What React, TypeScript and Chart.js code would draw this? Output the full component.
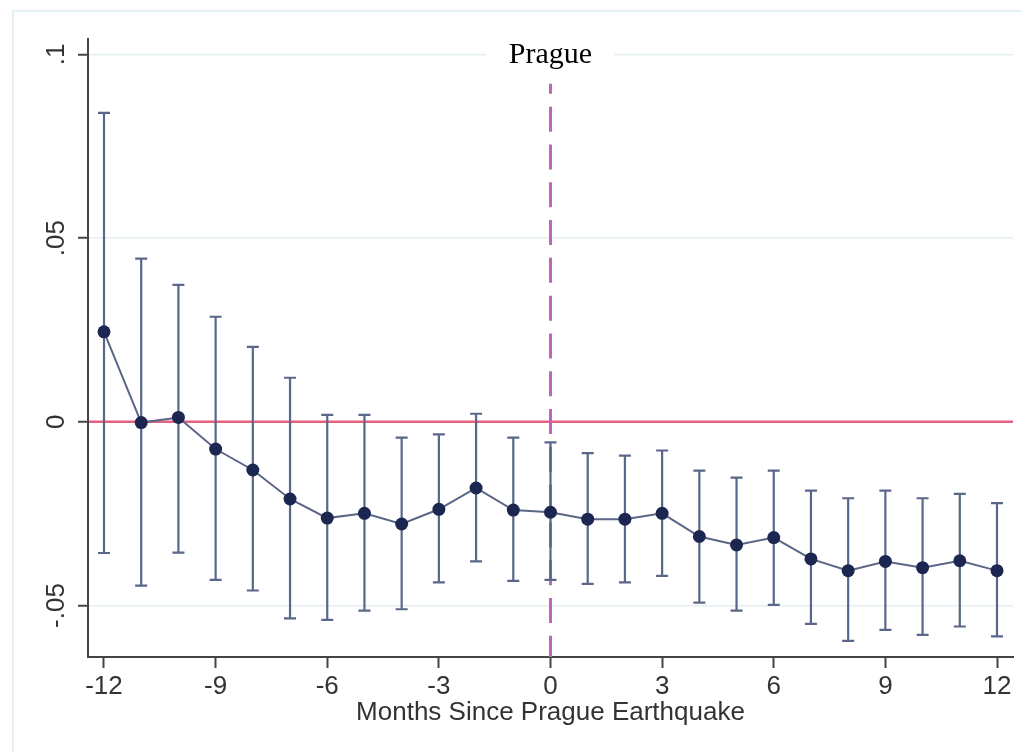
import React, { useEffect, useRef } from "react";
import { Chart, registerables } from "chart.js";

Chart.register(...registerables);

// ---- data ----
const months = [-12, -11, -10, -9, -8, -7, -6, -5, -4, -3, -2, -1, 0, 1, 2, 3, 4, 5, 6, 7, 8, 9, 10, 11, 12];
const coef = [0.0245, -0.0002, 0.0012, -0.0074, -0.0131, -0.021, -0.0262, -0.0249, -0.0278, -0.0238, -0.018, -0.024, -0.0246, -0.0265, -0.0265, -0.0249, -0.0312, -0.0335, -0.0315, -0.0373, -0.0405, -0.038, -0.0397, -0.0378, -0.0405];
const ciUpper = [0.0841, 0.0444, 0.0373, 0.0286, 0.0204, 0.012, 0.0019, 0.0019, -0.0043, -0.0034, 0.0022, -0.0043, -0.0056, -0.0085, -0.0092, -0.0078, -0.0133, -0.0152, -0.0133, -0.0187, -0.0208, -0.0187, -0.0208, -0.0196, -0.0221];
const ciLower = [-0.0357, -0.0446, -0.0356, -0.043, -0.0459, -0.0535, -0.0539, -0.0514, -0.051, -0.0437, -0.038, -0.0433, -0.043, -0.0441, -0.0437, -0.0419, -0.0492, -0.0514, -0.0498, -0.055, -0.0596, -0.0566, -0.058, -0.0557, -0.0584];
const xTickValues = [-12, -9, -6, -3, 0, 3, 6, 9, 12];
const xTickLabels = ["-12", "-9", "-6", "-3", "0", "3", "6", "9", "12"];
const yTickValues = [-0.05, 0, 0.05, 0.1];
const yTickLabels = ["-.05", "0", ".05", ".1"];
const xAxisTitle = "Months Since Prague Earthquake";
const eventLabel = "Prague";
const eventMonth = 0;
const referenceValue = 0;
const eventLineTop = 0.092;

const SANS = "'Liberation Sans', Arial, sans-serif";
const SERIF = "'Liberation Serif', 'Times New Roman', serif";

export default function App() {
  const ref = useRef<HTMLCanvasElement>(null);

  useEffect(() => {
    const canvas = ref.current;
    if (!canvas) return;

    const overlay = {
      id: "overlay",
      beforeDraw(chart: any) {
        const ctx = chart.ctx;
        ctx.save();
        ctx.fillStyle = "#ffffff";
        ctx.fillRect(0, 0, chart.width, chart.height);
        ctx.strokeStyle = "#e4f1f6";
        ctx.lineWidth = 2;
        ctx.beginPath();
        ctx.moveTo(13, chart.height);
        ctx.lineTo(13, 11);
        ctx.lineTo(chart.width, 11);
        ctx.stroke();
        ctx.restore();
      },
      beforeDatasetsDraw(chart: any) {
        const ctx = chart.ctx;
        const xs = chart.scales.x;
        const ys = chart.scales.y;
        const area = chart.chartArea;
        ctx.save();
        // reference line at zero
        const y0 = ys.getPixelForValue(referenceValue);
        ctx.strokeStyle = "#e3627d";
        ctx.lineWidth = 2.5;
        ctx.beginPath();
        ctx.moveTo(area.left + 1, y0);
        ctx.lineTo(area.right, y0);
        ctx.stroke();
        // event line
        const xe = xs.getPixelForValue(eventMonth);
        ctx.strokeStyle = "#c064c0";
        ctx.lineWidth = 3;
        ctx.setLineDash([25, 12.8]);
        ctx.lineDashOffset = 15;
        ctx.beginPath();
        ctx.moveTo(xe, ys.getPixelForValue(eventLineTop));
        ctx.lineTo(xe, area.bottom);
        ctx.stroke();
        ctx.setLineDash([]);
        // error bars
        ctx.strokeStyle = "#5a678a";
        ctx.lineWidth = 2.2;
        for (let i = 0; i < months.length; i++) {
          const x = xs.getPixelForValue(months[i]);
          const yu = ys.getPixelForValue(ciUpper[i]);
          const yl = ys.getPixelForValue(ciLower[i]);
          ctx.beginPath();
          ctx.moveTo(x, yu);
          ctx.lineTo(x, yl);
          ctx.moveTo(x - 6, yu);
          ctx.lineTo(x + 6, yu);
          ctx.moveTo(x - 6, yl);
          ctx.lineTo(x + 6, yl);
          ctx.stroke();
        }
        ctx.restore();
      },
      afterDraw(chart: any) {
        const ctx = chart.ctx;
        const xs = chart.scales.x;
        const ys = chart.scales.y;
        ctx.save();
        // rotated y tick labels
        ctx.fillStyle = "#333333";
        ctx.font = `26px ${SANS}`;
        ctx.textAlign = "center";
        ctx.textBaseline = "middle";
        for (let i = 0; i < yTickValues.length; i++) {
          const py = ys.getPixelForValue(yTickValues[i]);
          ctx.save();
          ctx.translate(57, py);
          ctx.rotate(-Math.PI / 2);
          ctx.fillText(yTickLabels[i], 0, 0);
          ctx.restore();
        }
        // event label with white box
        const xe = xs.getPixelForValue(eventMonth);
        ctx.fillStyle = "#ffffff";
        ctx.fillRect(xe - 64, 40, 128, 34);
        ctx.fillStyle = "#000000";
        ctx.font = `30px ${SERIF}`;
        ctx.textAlign = "center";
        ctx.textBaseline = "alphabetic";
        ctx.fillText(eventLabel, xe, 63);
        ctx.restore();
      },
    };

    const chart = new Chart(canvas, {
      type: "line",
      data: {
        datasets: [
          {
            data: months.map((m, i) => ({ x: m, y: coef[i] })),
            borderColor: "#5b6687",
            borderWidth: 2,
            pointRadius: 6.5,
            pointBackgroundColor: "#1b2750",
            pointBorderColor: "#1b2750",
            pointBorderWidth: 0,
            tension: 0,
            clip: false as any,
          },
        ],
      },
      options: {
        responsive: false,
        animation: false,
        devicePixelRatio: 1,
        layout: { padding: { left: 0, right: 8, top: 39, bottom: 0 } },
        plugins: { legend: { display: false }, tooltip: { enabled: false } },
        scales: {
          x: {
            type: "linear",
            min: -12.43,
            max: 12.43,
            afterBuildTicks: (s: any) => {
              s.ticks = xTickValues.map((v) => ({ value: v }));
            },
            afterFit: (s: any) => {
              s.height = 95;
            },
            ticks: {
              callback: (v: any) => xTickLabels[xTickValues.indexOf(Number(v))],
              font: { family: SANS, size: 26 },
              color: "#333333",
              padding: 3,
              maxRotation: 0,
              autoSkip: false,
            },
            grid: { drawOnChartArea: false, tickLength: 11, tickColor: "#444444", tickWidth: 2 },
            border: { color: "#444444", width: 2 },
            title: {
              display: true,
              text: xAxisTitle,
              font: { family: SANS, size: 26 },
              color: "#333333",
              padding: { top: 0, bottom: 24 },
            },
          },
          y: {
            type: "linear",
            min: -0.064,
            max: 0.1042,
            afterBuildTicks: (s: any) => {
              s.ticks = yTickValues.map((v) => ({ value: v }));
            },
            afterFit: (s: any) => {
              s.width = 88;
            },
            ticks: { display: false },
            grid: { color: "#e3eef2", lineWidth: 1.5, tickLength: 10, tickColor: "#444444", tickWidth: 2 },
            border: { color: "#444444", width: 2 },
          },
        },
      },
      plugins: [overlay],
    } as any);

    return () => chart.destroy();
  }, []);

  return (
    <div style={{ position: "absolute", left: 0, top: 0, width: 1021, height: 752, background: "#ffffff" }}>
      <canvas ref={ref} width={1021} height={752} style={{ display: "block", width: 1021, height: 752 }} />
    </div>
  );
}
